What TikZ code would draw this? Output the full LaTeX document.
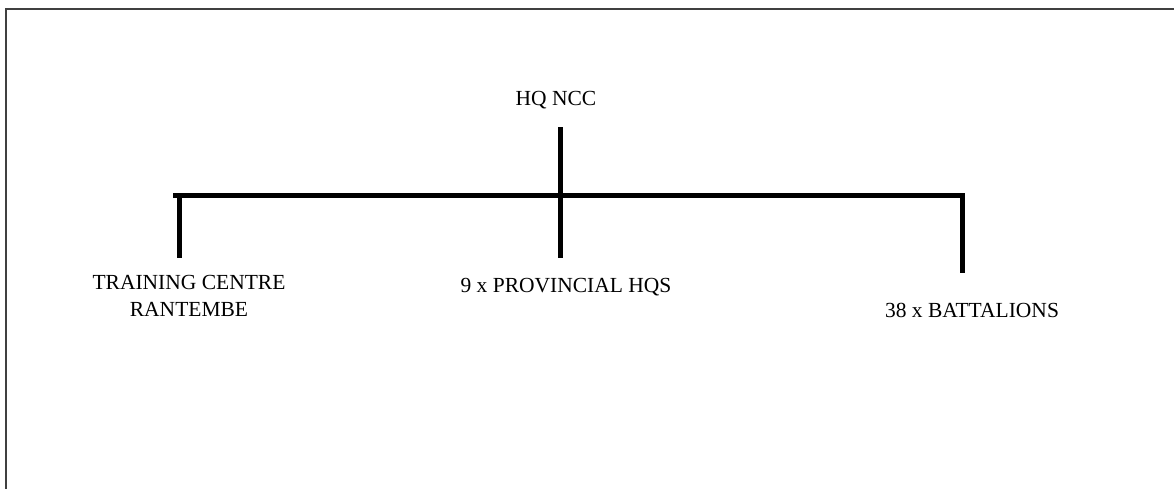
\documentclass[tikz,border=0pt]{standalone}
\usepackage{fontspec}
\setmainfont{Liberation Serif}
\begin{document}
\begin{tikzpicture}[x=1pt,y=-1pt,
  lbl/.style={inner sep=0pt,align=center,font=\fontsize{21.5}{26.5}\selectfont},
  conn/.style={line width=4.5pt,line cap=butt}]
\useasboundingbox (0,0) rectangle (1174,488);
\begin{scope}
\clip (0,0) rectangle (1174,488);
\draw[line width=1.5pt,black!75] (6,9) rectangle (1190,500);
\end{scope}
\node[lbl,anchor=base] (hq) at (556,105) {HQ NCC};
\node[lbl,anchor=base] (tc) at (189,316) {TRAINING CENTRE\\RANTEMBE};
\node[lbl,anchor=base] (ph) at (566,292) {9 x PROVINCIAL HQS};
\node[lbl,anchor=base] (bn) at (972,317) {38 x BATTALIONS};
\coordinate (top) at (560.5,127);
\coordinate (mid) at (560.5,258);
\coordinate (hl) at (173,195.5);
\coordinate (hr) at (964.5,195.5);
\coordinate (l1) at (179.5,193.5);
\coordinate (l2) at (179.5,258);
\coordinate (r1) at (962.5,193.5);
\coordinate (r2) at (962.5,273);
\draw[conn] (top) -- (mid);
\draw[conn] (hl) -- (hr);
\draw[conn] (l1) -- (l2);
\draw[conn] (r1) -- (r2);
\end{tikzpicture}
\end{document}
